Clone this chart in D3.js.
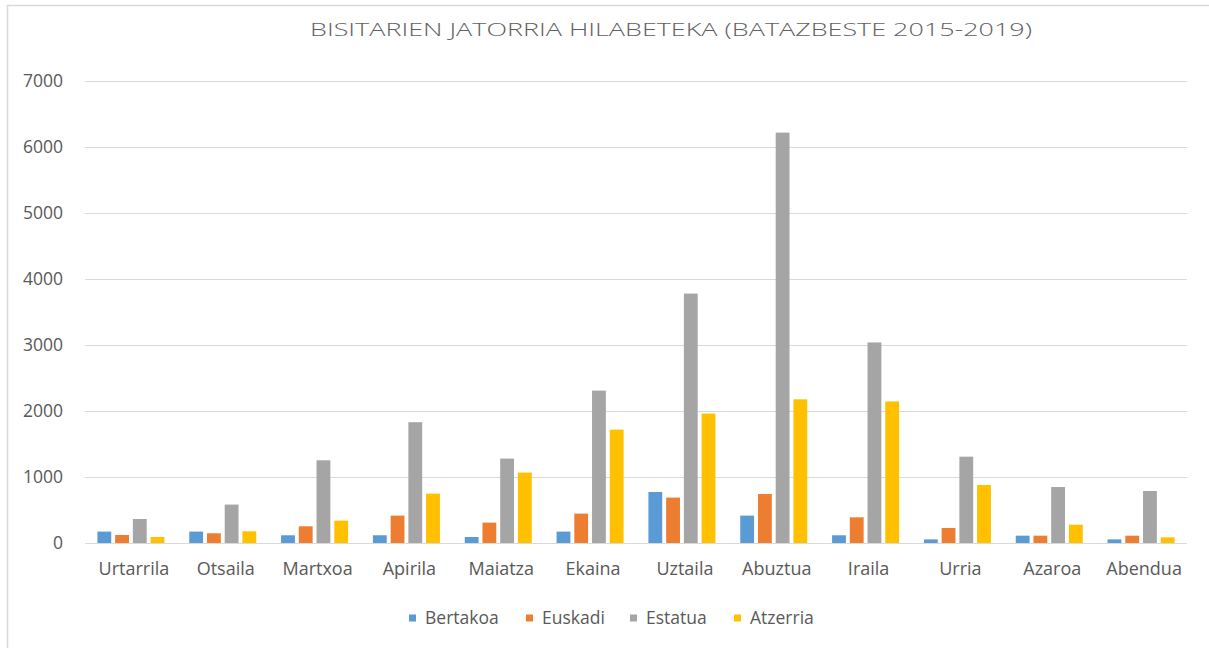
<!DOCTYPE html>
<html>
<head>
<meta charset="utf-8">
<script src="https://cdn.jsdelivr.net/npm/d3@7"></script>
<style>
  body { margin: 0; background: #fff; }
  text { font-family: "Open Sans", sans-serif; fill: #595959; }
</style>
</head>
<body>
<div id="chart"></div>
<script>
// Bisitarien jatorria hilabeteka, batazbeste 2015-2019

var months = ["Urtarrila", "Otsaila", "Martxoa", "Apirila", "Maiatza", "Ekaina",
              "Uztaila", "Abuztua", "Iraila", "Urria", "Azaroa", "Abendua"];
var seriesNames = ["Bertakoa", "Euskadi", "Estatua", "Atzerria"];
var seriesColors = ["#5B9BD5", "#ED7D31", "#A5A5A5", "#FFC000"];

var bertakoa = [173, 173, 117, 117, 91, 173, 773, 415, 117, 55, 111, 55];
var euskadi  = [121, 147, 253, 415, 309, 445, 688, 742, 389, 227, 111, 111];
var estatua  = [364, 582, 1253, 1830, 1279, 2309, 3779, 6218, 3039, 1308, 848, 788];
var atzerria = [91, 177, 339, 748, 1067, 1718, 1961, 2177, 2145, 879, 277, 85];

var yTicks = [0, 1000, 2000, 3000, 4000, 5000, 6000, 7000];

var svgWidth = 1209;
var svgHeight = 648;

var margin = { top: 81, right: 22, bottom: 105, left: 85 };
var width = svgWidth - margin.left - margin.right;
var height = svgHeight - margin.top - margin.bottom;

var svg = d3.select("#chart")
  .append("svg")
  .attr("width", svgWidth)
  .attr("height", svgHeight);

// chart frame (only left and top edges show)
svg.append("line").attr("x1", 7.5).attr("x2", 7.5).attr("y1", 5).attr("y2", svgHeight)
  .attr("stroke", "#d9d9d9").attr("stroke-width", 1.5);
svg.append("line").attr("x1", 7).attr("x2", svgWidth).attr("y1", 5.5).attr("y2", 5.5)
  .attr("stroke", "#d9d9d9").attr("stroke-width", 1.5);

var chartGroup = svg.append("g")
  .attr("transform", `translate(${margin.left}, ${margin.top})`);

var rows = months.map(function(m, i) {
  return { month: m, values: [bertakoa[i], euskadi[i], estatua[i], atzerria[i]] };
});

var x0 = d3.scaleBand()
  .domain(months)
  .range([0, width]);

var x1 = d3.scaleBand()
  .domain(seriesNames)
  .range([0, 67])
  .paddingInner(0.22);

var y = d3.scaleLinear()
  .domain([0, 7000])
  .range([height, 0]);

// gridlines
chartGroup.append("g")
  .selectAll("line")
  .data(yTicks)
  .enter()
  .append("line")
  .attr("x1", 0)
  .attr("x2", width)
  .attr("y1", d => y(d) + 0.5)
  .attr("y2", d => y(d) + 0.5)
  .attr("stroke", "#d9d9d9")
  .attr("stroke-width", 1.2);

// y labels
var leftAxis = d3.axisLeft(y).tickValues(yTicks).tickFormat(d3.format("d")).tickSize(0).tickPadding(22);
var yAxis = chartGroup.append("g").call(leftAxis);
yAxis.select(".domain").remove();
yAxis.selectAll("text")
  .style("font-size", "17.5px")
  .style("fill", "#595959");

// x labels
var bottomAxis = d3.axisBottom(x0).tickSize(0).tickPadding(19);
var xAxis = chartGroup.append("g")
  .attr("transform", `translate(0, ${height})`)
  .call(bottomAxis);
xAxis.select(".domain").remove();
xAxis.selectAll("text")
  .attr("dx", 3)
  .style("font-size", "18px")
  .style("fill", "#595959");

// bars
var groups = chartGroup.selectAll(".month")
  .data(rows)
  .enter()
  .append("g")
  .attr("class", "month")
  .attr("transform", d => `translate(${x0(d.month) + x0.bandwidth() / 2 - 33.5}, 0)`);

groups.selectAll("rect")
  .data(d => d.values.map((v, i) => ({ name: seriesNames[i], value: v, color: seriesColors[i] })))
  .enter()
  .append("rect")
  .attr("x", d => x1(d.name))
  .attr("y", d => y(d.value))
  .attr("width", x1.bandwidth())
  .attr("height", d => height - y(d.value))
  .attr("fill", d => d.color);

// title
svg.append("text")
  .attr("x", 310)
  .attr("y", 36)
  .attr("textLength", 722)
  .attr("lengthAdjust", "spacingAndGlyphs")
  .style("font-size", "19px")
  .style("font-weight", "300")
  .style("fill", "#5f5f5f")
  .text("BISITARIEN JATORRIA  HILABETEKA (BATAZBESTE  2015-2019)");

// legend
var legendX = [409, 526, 630, 734];
var legend = svg.append("g")
  .selectAll("g")
  .data(seriesNames)
  .enter()
  .append("g")
  .attr("transform", (d, i) => `translate(${legendX[i]}, 618)`);

legend.append("rect")
  .attr("x", 0)
  .attr("y", -3.5)
  .attr("width", 7)
  .attr("height", 7)
  .attr("fill", (d, i) => seriesColors[i]);

legend.append("text")
  .attr("x", 16)
  .attr("y", 0)
  .attr("dy", "0.35em")
  .style("font-size", "17.5px")
  .text(d => d);
</script>
</body>
</html>
